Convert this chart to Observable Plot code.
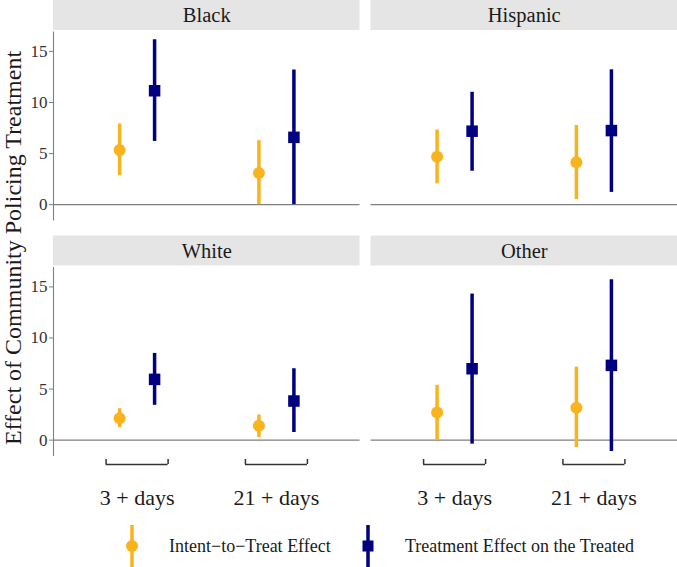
<!DOCTYPE html>
<html>
<head>
<meta charset="utf-8">
<script src="https://cdn.jsdelivr.net/npm/d3@7"></script>
<script src="https://cdn.jsdelivr.net/npm/@observablehq/plot@0.6"></script>
<style>
  html, body { margin: 0; padding: 0; background: #fff; }
  #wrap { position: relative; width: 677px; height: 567px; overflow: hidden;
          font-family: "Liberation Serif", "Times New Roman", serif; color: #1a1a1a; }
  #chart { position: absolute; left: 0; top: 0; }
  #ytitle { position: absolute; left: -197.2px; top: 235.5px; width: 420px; height: 24px;
            line-height: 24px; font-size: 24px; text-align: center; white-space: nowrap;
            transform: rotate(-90deg); transform-origin: 50% 50%; }
  #legend { position: absolute; left: 0; top: 520px; width: 677px; height: 47px; }
  .lkey { position: absolute; top: 0; }
  .ltext { position: absolute; top: 16.6px; font-size: 18px; line-height: 18px; white-space: nowrap; }
</style>
</head>
<body>
<div id="wrap">
  <div id="chart"></div>
  <div id="ytitle">Effect of Community Policing Treatment</div>
  <div id="legend"></div>
</div>
<script>
// ---------- data ----------
const panels = ["Black", "Hispanic", "White", "Other"];
const periods = ["3 + days", "21 + days"];
const seriesNames = ["Intent\u2212to\u2212Treat Effect", "Treatment Effect on the Treated"];
const yTicks = [0, 5, 10, 15];

// per panel: [3 + days, 21 + days]
const ittEst  = [[5.35, 3.10], [4.70, 4.15], [2.15, 1.40], [2.70, 3.18]];
const ittLow  = [[2.84, 0.00], [2.03, 0.49], [1.23, 0.26], [0.00, -0.72]];
const ittHigh = [[7.90, 6.26], [7.30, 7.75], [3.08, 2.47], [5.37, 7.15]];
const totEst  = [[11.15, 6.59], [7.19, 7.25], [5.95, 3.83], [6.99, 7.32]];
const totLow  = [[6.19, 0.00], [3.27, 1.20], [3.41, 0.75], [-0.39, -1.11]];
const totHigh = [[16.14, 13.18], [11.00, 13.20], [8.49, 6.99], [14.30, 15.70]];

// ---------- styling / layout ----------
const serif = "Liberation Serif";
const yellow = "#F9B41D";
const navy = "#000080";
const W = 677, H = 520;
const mLeft = 53, panelBottom = 456;
const facetH = 220.5, stripPx = 30, gapPx = 1.5;
const yMin = -1.6, yMax = 16.9;
const pxPerUnit = (facetH - stripPx - gapPx) / (yMax - yMin);
const yStripBottom = yMax + gapPx / pxPerUnit;
const yTop = yMax + (stripPx + gapPx) / pxPerUnit;
const xDomain = [0.4, 2.6];

// ---------- tables ----------
const panelRows = panels.map((name, i) => ({name, col: i % 2, row: Math.floor(i / 2)}));
const rows = [];
panels.forEach((name, i) => periods.forEach((p, j) => {
  const base = {panel: name, col: i % 2, row: Math.floor(i / 2), period: p, pos: j + 1};
  rows.push({...base, series: seriesNames[0], est: ittEst[i][j], lo: ittLow[i][j], hi: ittHigh[i][j]});
  rows.push({...base, series: seriesNames[1], est: totEst[i][j], lo: totLow[i][j], hi: totHigh[i][j]});
}));
const itt = rows.filter(d => d.series === seriesNames[0]);
const tot = rows.filter(d => d.series === seriesNames[1]);
const leftPanels = panelRows.filter(d => d.col === 0);
const bottomTicks = panelRows.filter(d => d.row === 1).flatMap(d => periods.map((p, j) => ({...d, period: p, pos: j + 1})));

const dodge = 17.5, half = 31;

const chart = Plot.plot({
  width: W, height: H,
  marginLeft: mLeft, marginRight: 0, marginTop: 0, marginBottom: H - panelBottom,
  style: {background: "#fff", color: "#1a1a1a"},
  fx: {domain: [0, 1], paddingInner: 11 / 317.5, paddingOuter: 0, round: false, axis: null, label: null},
  fy: {domain: [0, 1], paddingInner: 15 / 235.5, paddingOuter: 0, round: false, axis: null, label: null},
  x: {type: "linear", domain: xDomain},
  y: {domain: [yMin, yTop]},
  marks: [
    // facet strips
    Plot.rect(panelRows, {fx: "col", fy: "row", x1: xDomain[0], x2: xDomain[1], y1: yStripBottom, y2: yTop, fill: "#E5E5E5"}),
    Plot.text(panelRows, {fx: "col", fy: "row", x: (xDomain[0] + xDomain[1]) / 2, y: (yStripBottom + yTop) / 2,
      text: "name", fontSize: 20.5, fontFamily: serif, fill: "#1a1a1a"}),
    // zero reference line
    Plot.ruleY([0], {stroke: "#7f7f7f", strokeWidth: 1.1}),
    // y axis line (left column only)
    Plot.ruleX(leftPanels, {fx: "col", fy: "row", x: xDomain[0], y1: yMin, y2: yMax, stroke: "#7f7f7f", strokeWidth: 1.1}),
    Plot.axisY({ticks: yTicks, tickSize: 4, tickPadding: 2, fontSize: 17, fontFamily: serif, label: null,
      facetAnchor: "left", stroke: "#7f7f7f", fill: "#333"}),
    // x axis labels (bottom row)
    Plot.axisX({ticks: [1, 2], tickFormat: i => periods[i - 1], tickSize: 0, tickPadding: 33,
      fontSize: 22, fontFamily: serif, label: null, facetAnchor: "bottom", fill: "#1a1a1a"}),
    // brackets under categories
    Plot.ruleY(bottomTicks, {fx: "col", fy: "row", x1: "pos", x2: "pos", y: yMin,
      insetLeft: -half, insetRight: -half, dy: 8, stroke: "#333", strokeWidth: 1.5}),
    Plot.ruleX(bottomTicks, {fx: "col", fy: "row", x: "pos", y1: yMin, y2: yMin, insetTop: -5,
      dx: -half, dy: 8, stroke: "#333", strokeWidth: 1.5}),
    Plot.ruleX(bottomTicks, {fx: "col", fy: "row", x: "pos", y1: yMin, y2: yMin, insetTop: -5,
      dx: half, dy: 8, stroke: "#333", strokeWidth: 1.5}),
    // intent-to-treat
    Plot.ruleX(itt, {fx: "col", fy: "row", x: "pos", y1: "lo", y2: "hi", dx: -dodge, stroke: yellow, strokeWidth: 3.5}),
    Plot.dot(itt, {fx: "col", fy: "row", x: "pos", y: "est", dx: -dodge, r: 6, symbol: "circle", fill: yellow}),
    // treatment effect on treated
    Plot.ruleX(tot, {fx: "col", fy: "row", x: "pos", y1: "lo", y2: "hi", dx: dodge, stroke: navy, strokeWidth: 3.5}),
    Plot.dot(tot, {fx: "col", fy: "row", x: "pos", y: "est", dx: dodge, r: 6.5, symbol: "square", fill: navy})
  ]
});
document.getElementById("chart").appendChild(chart);

// ---------- legend ----------
const legend = d3.select("#legend");
const legendItems = [
  {name: seriesNames[0], color: yellow, shape: "circle", keyX: 131.7, textX: 169},
  {name: seriesNames[1], color: navy, shape: "square", keyX: 368, textX: 405}
];
legendItems.forEach(it => {
  const svg = legend.append("svg").attr("class", "lkey")
    .attr("width", 20).attr("height", 47)
    .style("left", (it.keyX - 10) + "px");
  svg.append("line").attr("x1", 10).attr("x2", 10).attr("y1", 5).attr("y2", 47)
    .attr("stroke", it.color).attr("stroke-width", 3.5);
  if (it.shape === "circle") {
    svg.append("circle").attr("cx", 10).attr("cy", 26).attr("r", 6).attr("fill", it.color);
  } else {
    svg.append("rect").attr("x", 4.5).attr("y", 20.5).attr("width", 11).attr("height", 11).attr("fill", it.color);
  }
  legend.append("div").attr("class", "ltext").style("left", it.textX + "px").text(it.name);
});
</script>
</body>
</html>
